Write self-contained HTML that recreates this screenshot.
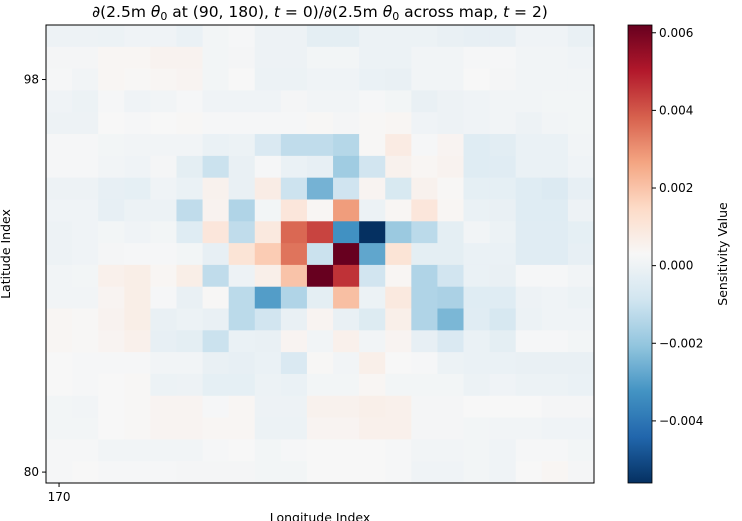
<!DOCTYPE html>
<html><head><meta charset="utf-8"><style>
body{margin:0;background:#fff;}
svg{display:block;font-family:"DejaVu Sans","Liberation Sans",sans-serif;}
</style></head><body>
<svg id="c" width="742" height="521" viewBox="0 0 742 521">
<text x="320" y="17" text-anchor="middle" font-size="15.5">∂(2.5m <tspan font-style="italic">θ</tspan><tspan font-size="11" dy="3">0</tspan><tspan dy="-3"> at (90, 180), </tspan><tspan font-style="italic">t</tspan> = 0)/∂(2.5m <tspan font-style="italic">θ</tspan><tspan font-size="11" dy="3">0</tspan><tspan dy="-3"> across map, </tspan><tspan font-style="italic">t</tspan> = 2)</text>
<g id="cells"></g>
<rect x="46" y="25" width="548" height="458" fill="none" stroke="#000" stroke-width="1"/>
<g id="axes" font-size="12"></g>
<text transform="translate(10,254) rotate(-90)" text-anchor="middle" font-size="12.5">Latitude Index</text>
<text x="320" y="522" text-anchor="middle" font-size="12.5">Longitude Index</text>
<defs><linearGradient id="cbg" x1="0" y1="1" x2="0" y2="0"></linearGradient></defs>
<rect x="628" y="25" width="24" height="458" fill="url(#cbg)"/>
<rect x="628" y="25" width="24" height="458" fill="none" stroke="#000" stroke-width="0.8"/>
<g id="cbticks" font-size="12"></g>
<text transform="translate(727,254) rotate(-90)" text-anchor="middle" font-size="12.5">Sensitivity Value</text>
</svg>
<script>
// values in units of 1e-3, rows from top (lat 100) to bottom (lat 80), columns lon 170..190
const lonStart = 170;
const latTop = 100;
const yTicks = [98, 80];
const xTicks = [170];
const cbTicks = [0.006, 0.004, 0.002, 0.000, -0.002, -0.004];
const cbTickLabels = ["0.006", "0.004", "0.002", "0.000", "−0.002", "−0.004"];
const vmin = -0.0056, vmax = 0.0062;
const row0 = [0,0,-0.05,0.05,0.05,-0.1,0.15,0.25,0,0,-0.3,-0.3,-0.05,-0.05,-0.05,-0.15,-0.2,-0.2,0.05,0.05,-0.15];
const row1 = [0.2,0.2,0.4,0.4,0.5,0.5,0.15,0.2,0,0,0.15,0.15,-0.05,-0.05,0.1,0.1,0.25,0.25,0.1,0.1,0.05];
const row2 = [0.25,0.1,0.4,0.35,0.4,0.45,0.15,0.3,-0.05,-0.05,0.05,0.05,-0.1,-0.15,0.1,0.1,0.3,0.2,0.1,0.1,0.1];
const row3 = [0.05,-0.05,0.25,0.05,0.1,0.25,0.05,0.05,0.05,0.2,0.1,0.1,0.25,0.15,-0.15,0,0.05,0.1,0.1,0.15,0.15];
const row4 = [0,0,0.3,0.25,0.3,0.35,0.25,0.25,0.25,0.25,0.35,0.2,0.35,0.4,0.05,0,0.05,0.1,0,0.1,0.15];
const row5 = [0.25,0.25,0.15,0.1,0.1,0.1,-0.1,-0.05,-0.6,-1.2,-1.2,-1.4,0.35,0.8,0.25,0.45,-0.45,-0.35,-0.1,-0.1,0.1];
const row6 = [0.25,0.25,0.1,0.05,0.2,-0.3,-1.0,-0.15,0.25,-0.1,-0.2,-1.8,-0.85,0.55,0.4,0.5,-0.45,-0.4,-0.1,-0.1,0.05];
const row7 = [0,0,-0.2,-0.25,0.05,-0.1,0.55,-0.15,0.75,-0.95,-2.5,-0.9,0.45,-0.65,0.55,0.35,-0.25,-0.25,-0.45,-0.55,-0.2];
const row8 = [0.05,0.05,-0.2,-0.05,-0.05,-1.2,0.5,-1.5,0.15,1.0,0.4,2.8,-0.05,0.4,1.0,0.4,-0.1,-0.15,-0.45,-0.45,0];
const row9 = [0,0.05,0.15,0.05,0.15,-0.45,1.0,-1.2,0.9,3.7,4.3,-3.3,-5.6,-1.9,-1.3,-0.3,0.1,-0.05,-0.4,-0.4,-0.25];
const row10 = [0,0.05,0.2,0.25,0.25,0.15,-0.2,1.1,1.8,3.5,-1.0,6.2,-2.8,1.1,-0.3,-0.3,-0.1,-0.1,-0.4,-0.4,-0.2];
const row11 = [0.1,0.15,0.6,0.7,0.4,0.7,-1.2,0,0.65,2.0,6.2,4.6,-0.85,0.4,-1.5,-0.85,-0.1,-0.15,0.25,0.25,0.1];
const row12 = [0.1,0.1,0.45,0.7,0.25,-0.15,0.35,-1.3,-3.0,-1.5,-0.3,2.1,-0.05,0.9,-1.5,-1.6,-0.45,-0.45,0,0.05,-0.05];
const row13 = [0.4,0.35,0.5,0.7,-0.15,-0.05,-0.15,-1.3,-0.85,-0.15,0.45,-0.15,-0.5,0.65,-1.5,-2.4,-0.4,-0.7,-0.05,0.05,0.05];
const row14 = [0.4,0.35,0.45,0.6,-0.2,-0.3,-1.0,-0.1,-0.15,0.45,0.1,0.6,0.1,0.45,-0.2,-0.6,-0.1,-0.3,0.25,0.25,0.15];
const row15 = [0.3,0.25,0.25,0.25,0.1,0.1,-0.15,-0.2,-0.1,-0.6,0.35,0.1,0.65,0.3,0.25,-0.05,-0.1,-0.1,-0.15,-0.15,-0.15];
const row16 = [0.3,0.25,0.3,0.35,-0.05,0,-0.25,-0.25,-0.05,-0.1,0.15,0.15,0.4,0.15,0.15,0.15,-0.05,0.05,-0.05,-0.05,-0.1];
const row17 = [0.15,0.1,0.3,0.35,0.45,0.45,0.25,0.4,0,0,0.55,0.55,0.65,0.6,0.2,0.2,0.3,0.3,0.3,0.2,0.2];
const row18 = [0.15,0.15,0.3,0.35,0.45,0.45,0.4,0.4,-0.05,-0.05,0.45,0.45,0.6,0.6,0.2,0.2,0.15,0.1,0.1,0.05,0.05];
const row19 = [0.25,0.25,0.1,0.1,0.1,0.1,0.25,0.3,0.15,0.25,0.3,0.3,0.3,0.25,0.1,0.1,0.15,0.05,0.25,0.25,0.15];
const row20 = [0.25,0.3,0.25,0.25,0.25,0.2,0.2,0.2,0.15,0.15,0.3,0.3,0.3,0.25,0.05,0.05,0.15,0.05,0.3,0.4,0.2];
const grid = [row0,row1,row2,row3,row4,row5,row6,row7,row8,row9,row10,row11,row12,row13,row14,row15,row16,row17,row18,row19,row20];

const NS = "http://www.w3.org/2000/svg";
const stops = ["#053061","#2166ac","#4393c3","#92c5de","#d1e5f0","#f7f7f7","#fddbc7","#f4a582","#d6604d","#b2182b","#67001f"];
function hex(h){return [1,3,5].map(i=>parseInt(h.substr(i,2),16));}
function cmap(t){
  t=Math.max(0,Math.min(1,t))*(stops.length-1);
  const i=Math.min(Math.floor(t),stops.length-2), f=t-i;
  const a=hex(stops[i]), b=hex(stops[i+1]);
  return "rgb("+a.map((v,k)=>Math.round(v+(b[k]-v)*f)).join(",")+")";
}
const X0=46, Y0=25, W=548, H=458;
const nRows=grid.length, nCols=grid[0].length;
const cw=W/nCols, ch=H/nRows;
function xScale(lon){return X0+(lon-lonStart+0.5)*cw;}
function yScale(lat){return Y0+(latTop-lat+0.5)*ch;}
function norm(v){return (v-vmin)/(vmax-vmin);}
const cells=document.getElementById("cells");
grid.forEach((row,r)=>row.forEach((v,c)=>{
  const el=document.createElementNS(NS,"rect");
  el.setAttribute("x",(xScale(lonStart+c)-cw/2).toFixed(2));
  el.setAttribute("y",(yScale(latTop-r)-ch/2).toFixed(2));
  el.setAttribute("width",(cw+0.4).toFixed(2));
  el.setAttribute("height",(ch+0.4).toFixed(2));
  el.setAttribute("fill",cmap(norm(v*1e-3)));
  
  
  cells.appendChild(el);
}));
const axes=document.getElementById("axes");
yTicks.forEach(t=>{
  const y=yScale(t);
  const l=document.createElementNS(NS,"line");
  l.setAttribute("x1",X0-4);l.setAttribute("x2",X0);l.setAttribute("y1",y);l.setAttribute("y2",y);l.setAttribute("stroke","#000");
  
  
  axes.appendChild(l);
  const tx=document.createElementNS(NS,"text");
  tx.setAttribute("x",X0-7);tx.setAttribute("y",y+4);tx.setAttribute("text-anchor","end");tx.textContent=t;
  
  
  axes.appendChild(tx);
});
xTicks.forEach(t=>{
  const x=xScale(t);
  const l=document.createElementNS(NS,"line");
  l.setAttribute("x1",x);l.setAttribute("x2",x);l.setAttribute("y1",Y0+H);l.setAttribute("y2",Y0+H+4);l.setAttribute("stroke","#000");
  
  
  axes.appendChild(l);
  const tx=document.createElementNS(NS,"text");
  tx.setAttribute("x",x);tx.setAttribute("y",Y0+H+18);tx.setAttribute("text-anchor","middle");tx.textContent=t;
  
  
  axes.appendChild(tx);
});
const g=document.getElementById("cbg");
for(let i=0;i<=40;i++){
  const s=document.createElementNS(NS,"stop");
  s.setAttribute("offset",(i/40).toFixed(3));
  s.setAttribute("stop-color",cmap(i/40));
  g.appendChild(s);
}
const cbt=document.getElementById("cbticks");
function cbY(v){return 25+458*(1-norm(v));}
cbTicks.forEach((v,i)=>{
  const y=cbY(v);
  const l=document.createElementNS(NS,"line");
  l.setAttribute("x1",652);l.setAttribute("x2",656);l.setAttribute("y1",y);l.setAttribute("y2",y);l.setAttribute("stroke","#000");
  
  
  cbt.appendChild(l);
  const tx=document.createElementNS(NS,"text");
  tx.setAttribute("x",659);tx.setAttribute("y",y+4);tx.textContent=cbTickLabels[i];
  
  
  cbt.appendChild(tx);
});
</script>
</body></html>
